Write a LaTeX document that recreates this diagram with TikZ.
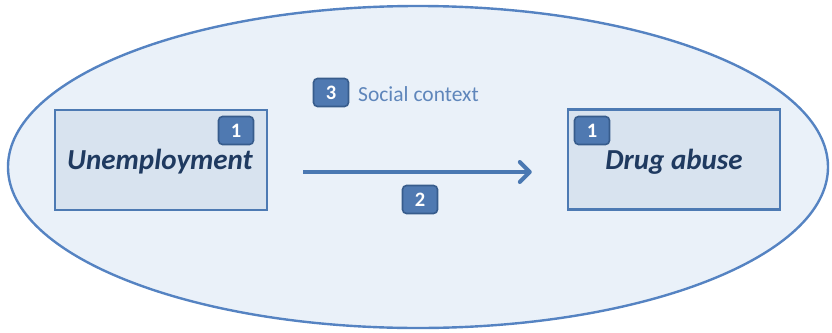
\documentclass[tikz,border=0pt]{standalone}
\usepackage{fontspec}
\setmainfont{Carlito}
\usetikzlibrary{arrows.meta,shapes.geometric}
\definecolor{ovalfill}{HTML}{EAF1F9}
\definecolor{ovaledge}{HTML}{5583C2}
\definecolor{boxfill}{HTML}{D8E3EF}
\definecolor{boxedge}{HTML}{4D7AB3}
\definecolor{badgefill}{HTML}{4F79B1}
\definecolor{badgeedge}{HTML}{375C8C}
\definecolor{labeltext}{HTML}{1F3A60}
\definecolor{contexttext}{HTML}{5F86BB}
\definecolor{arrowcol}{HTML}{4A78B2}
\tikzset{
  factorbox/.style={draw=boxedge, fill=boxfill, line width=2.4pt,
    minimum width=212pt, minimum height=100pt, inner sep=0pt},
  badge/.style={draw=badgeedge, fill=badgefill, line width=1.6pt,
    rounded corners=4pt, minimum width=35pt, minimum height=28pt,
    inner sep=0pt, text=white, font=\fontsize{20.5}{20.5}\selectfont\bfseries},
  factorlabel/.style={text=labeltext, inner sep=0pt,
    font=\fontsize{29}{29}\selectfont\bfseries\itshape},
}
\begin{document}
\begin{tikzpicture}[x=1pt, y=-1pt]
  \useasboundingbox (0,0) rectangle (832,332);
  % social context oval
  \node (ctx) [draw=ovaledge, fill=ovalfill, line width=2.4pt, ellipse,
    minimum width=820pt, minimum height=322pt, inner sep=0pt] at (418,167) {};
  % the two factors
  \node (unemp) [factorbox] at (161,160) {};
  \node (drug) [factorbox] at (674,159.5) {};
  \node (unempText) [factorlabel, anchor=base] at (160,169) {Unemployment};
  \node (drugText) [factorlabel, anchor=base] at (674,169) {Drug abuse};
  % numbered badges
  \node (b1l) [badge] at (236,130.5) {1};
  \node (b1r) [badge] at (592,130.5) {1};
  \node (b2) [badge] at (420,199.5) {2};
  \node (b3) [badge] at (331,92.5) {3};
  \node (ctxText) [anchor=base west, inner sep=0pt, text=contexttext,
    font=\fontsize{21.5}{21.5}\selectfont] at (358,101) {Social context};
  % causal link
  \draw [arrowcol, line width=4pt,
    -{Straight Barb[length=10pt, width=20pt, line cap=round, line join=round]},
    shorten <=35pt, shorten >=35pt]
    ([yshift=-12pt]unemp.east) -- ([yshift=-12.5pt]drug.west);
\end{tikzpicture}
\end{document}
